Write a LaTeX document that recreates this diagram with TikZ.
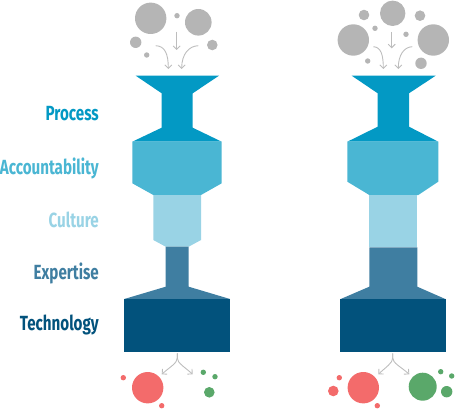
\documentclass[tikz,border=0pt]{standalone}
\usepackage{fontspec}
\setmainfont{Fira Sans}[FakeStretch=0.74]
\usetikzlibrary{arrows.meta}
\definecolor{cproc}{HTML}{0399C4}
\definecolor{cacc}{HTML}{4AB6D3}
\definecolor{ccult}{HTML}{99D3E5}
\definecolor{cexp}{HTML}{3F7EA1}
\definecolor{ctech}{HTML}{02527C}
\definecolor{cbub}{HTML}{B5B5B5}
\definecolor{carr}{HTML}{BDBDBD}
\definecolor{cred}{HTML}{F36B6B}
\definecolor{cgreen}{HTML}{5AA86A}
\tikzset{
  lbl/.style={anchor=east,inner sep=0pt,font=\fontsize{20.5}{22}\selectfont\bfseries},
  flow/.style={draw=carr,line width=0.9pt,-{Straight Barb[length=3.5pt,width=7pt]}},
  bub/.style={fill=cbub},
  redb/.style={fill=cred},
  grnb/.style={fill=cgreen}
}
\begin{document}
\begin{tikzpicture}[x=1pt,y=-1pt]
\useasboundingbox (0,0) rectangle (455,409);
% labels
\node[lbl,text=cproc] (lp) at (99,114) {Process};
\node[lbl,text=cacc] (la) at (99,168) {Accountability};
\node[lbl,text=ccult] (lc) at (99,220) {Culture};
\node[lbl,text=cexp] (le) at (99,273) {Expertise};
\node[lbl,text=ctech] (lt) at (99,325) {Technology};

% ===== left funnel =====
\fill[cproc] (135.7,75.7) -- (219,75.7) -- (192.7,93.3) -- (192.7,127.7) -- (221.7,141.7) -- (132.3,141.7) -- (161.7,127.7) -- (161.7,93.3) -- cycle;
\fill[cacc] (132.3,141.7) -- (221.7,141.7) -- (221.7,183.3) -- (201,195) -- (153.3,195) -- (132.3,183.3) -- cycle;
\fill[ccult] (153.3,195) -- (201,195) -- (201,240) -- (188.7,246.7) -- (165.7,246.7) -- (153.3,240) -- cycle;
\fill[cexp] (165.7,246.7) -- (188.7,246.7) -- (188.7,286.7) -- (230,299) -- (124.3,299) -- (165.7,286.7) -- cycle;
\fill[ctech] (124.3,299) rectangle (230,352.3);

% ===== right funnel =====
\fill[cproc] (351.7,75.7) -- (435.7,75.7) -- (409,93.3) -- (409,126.7) -- (438.3,141.7) -- (347.3,141.7) -- (377.7,126.7) -- (377.7,93.3) -- cycle;
\fill[cacc] (347.3,141.7) -- (438.3,141.7) -- (438.3,181.7) -- (418.3,195) -- (369.3,195) -- (347.3,181.7) -- cycle;
\fill[ccult] (369.3,195) rectangle (417.3,247.3);
\fill[cexp] (369.3,247.3) -- (417.3,247.3) -- (417.3,286.7) -- (446,299.3) -- (340,299.3) -- (369.3,286.7) -- cycle;
\fill[ctech] (340,299.3) rectangle (446,352.3);

% ===== top bubbles left =====
\fill[bub] (150.7,18.3) circle (15.7);
\fill[bub] (177,15.7) circle (2.7);
\fill[bub] (198.3,22.3) circle (13.3);
\fill[bub] (135.7,42.3) circle (5.7);
\fill[bub] (146.7,55) circle (2.7);
\fill[bub] (212.3,45) circle (5.3);
\coordinate (a1s) at (176.7,31.7); \coordinate (a1e) at (176.7,50);
\coordinate (a2s) at (155.7,45.7); \coordinate (a2e) at (168.3,69);
\coordinate (a3s) at (198.3,45.7); \coordinate (a3e) at (181.7,69);
\draw[flow] (a1s) -- (a1e);
\draw[flow] (a2s) .. controls (165,46) and (168.3,54) .. (a2e);
\draw[flow] (a3s) .. controls (189,46) and (181.7,54) .. (a3e);

% ===== top bubbles right =====
\fill[bub] (392.7,13.3) circle (12.7);
\fill[bub] (364,15) circle (5.3);
\fill[bub] (420,15.7) circle (5.3);
\fill[bub] (353.3,40) circle (15.7);
\fill[bub] (375,28.3) circle (2.7);
\fill[bub] (406,34.3) circle (2.7);
\fill[bub] (433.3,40) circle (15.7);
\fill[bub] (367.7,61) circle (2.7);
\fill[bub] (421,63.3) circle (5.7);
\coordinate (b1s) at (391.7,32); \coordinate (b1e) at (391.7,48.3);
\coordinate (b2s) at (373.3,46.7); \coordinate (b2e) at (383.3,69);
\coordinate (b3s) at (412.3,46.7); \coordinate (b3e) at (398.3,69);
\draw[flow] (b1s) -- (b1e);
\draw[flow] (b2s) .. controls (381,47) and (383.3,55) .. (b2e);
\draw[flow] (b3s) .. controls (404,47) and (398.3,55) .. (b3e);

% ===== bottom left =====
\coordinate (c0) at (177.3,353.3);
\coordinate (cl) at (161.7,374.3);
\coordinate (cr) at (192.7,374.3);
\draw[flow] (c0) -- (177.3,358) .. controls (177.3,363) and (170,367) .. (cl);
\draw[flow] (c0) -- (177.3,358) .. controls (177.3,363) and (184.6,367) .. (cr);
\fill[redb] (147.7,387.7) circle (15.7);
\fill[redb] (123.3,377.7) circle (2.7);
\fill[redb] (161.7,405.7) circle (2.7);
\fill[grnb] (203.3,372.3) circle (2.7);
\fill[grnb] (215,376.7) circle (2.7);
\fill[grnb] (209.3,392.3) circle (5.3);

% ===== bottom right =====
\coordinate (d0) at (392.7,353.3);
\coordinate (dl) at (378.3,374.3);
\coordinate (dr) at (409.3,374.3);
\draw[flow] (d0) -- (392.7,358) .. controls (392.7,363) and (386,367) .. (dl);
\draw[flow] (d0) -- (392.7,358) .. controls (392.7,363) and (401,367) .. (dr);
\fill[redb] (363.3,387.7) circle (15.7);
\fill[redb] (333.3,391) circle (5.3);
\fill[redb] (339.3,377.7) circle (2.7);
\fill[redb] (377.3,405.7) circle (2.7);
\fill[grnb] (422.7,386.7) circle (14);
\fill[grnb] (440.7,371.7) circle (2.7);
\fill[grnb] (451.7,376) circle (2.7);
\fill[grnb] (446.7,391.7) circle (5.7);
\end{tikzpicture}
\end{document}
